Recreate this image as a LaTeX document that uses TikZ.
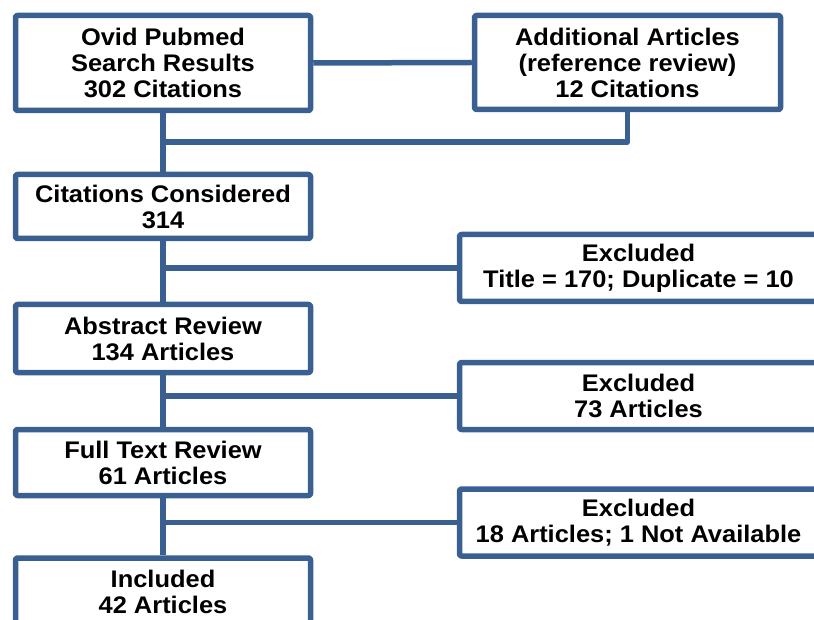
\documentclass[tikz,border=0pt]{standalone}
\usepackage{fontspec}
\setmainfont[FakeStretch=1.06]{Liberation Sans}
\tikzset{
  flow/.style={
    x=1pt,
    y=-1pt,
    line width=5.5pt,
    line join=round
  },
  box/.style={
    draw=flowblue,
    fill=white,
    rounded corners=2pt,
    align=center,
    inner sep=0pt,
    font=\bfseries\fontsize{24}{26}\selectfont
  },
  box-left/.style={box, minimum width=295pt},
  box-right/.style={box, minimum width=358pt, minimum height=67pt},
  link/.style={draw=flowblue}
}
\definecolor{flowblue}{RGB}{58,96,146}

\begin{document}
\begin{tikzpicture}[flow]
  \useasboundingbox (0,0) rectangle (814,620);
  \clip (0,0) rectangle (814,620);

  % Left column
  \node[box-left, minimum height=95pt] (ovid) at (163,63) {Ovid Pubmed\\Search Results\\302 Citations};
  \node[box-left, minimum height=64pt] (cons) at (163,206.5) {Citations Considered\\314};
  \node[box-left, minimum height=68pt] (abstr) at (163,338.5) {Abstract Review\\134 Articles};
  \node[box-left, minimum height=66pt] (full) at (163,462.5) {Full Text Review\\61 Articles};
  \node[box-left, minimum height=68pt] (incl) at (163,592) {Included\\42 Articles};
  % Right column
  \node[box, minimum width=306pt, minimum height=94pt] (addl) at (627.5,62.5) {Additional Articles\\(reference review)\\12 Citations};
  \node[box-right] (excl1) at (638.5,268) {Excluded\\Title = 170; Duplicate = 10};
  \node[box-right] (excl2) at (638.5,396) {Excluded\\73 Articles};
  \node[box-right] (excl3) at (638.5,522.5) {Excluded\\18 Articles; 1 Not Available};

  \coordinate (join) at (163,142);

  % Links
  \draw[link] (ovid.east) -- (addl.west);
  \draw[link] (ovid.south) -- (cons.north);
  \draw[link] (addl.south) |- (join);
  \draw[link] (cons.south) -- (abstr.north);
  \draw[link] (cons.south |- excl1.west) -- (excl1.west);
  \draw[link] (abstr.south) -- (full.north);
  \draw[link] (abstr.south |- excl2.west) -- (excl2.west);
  \draw[link] (full.south) -- (incl.north);
  \draw[link] (full.south |- excl3.west) -- (excl3.west);
\end{tikzpicture}
\end{document}
